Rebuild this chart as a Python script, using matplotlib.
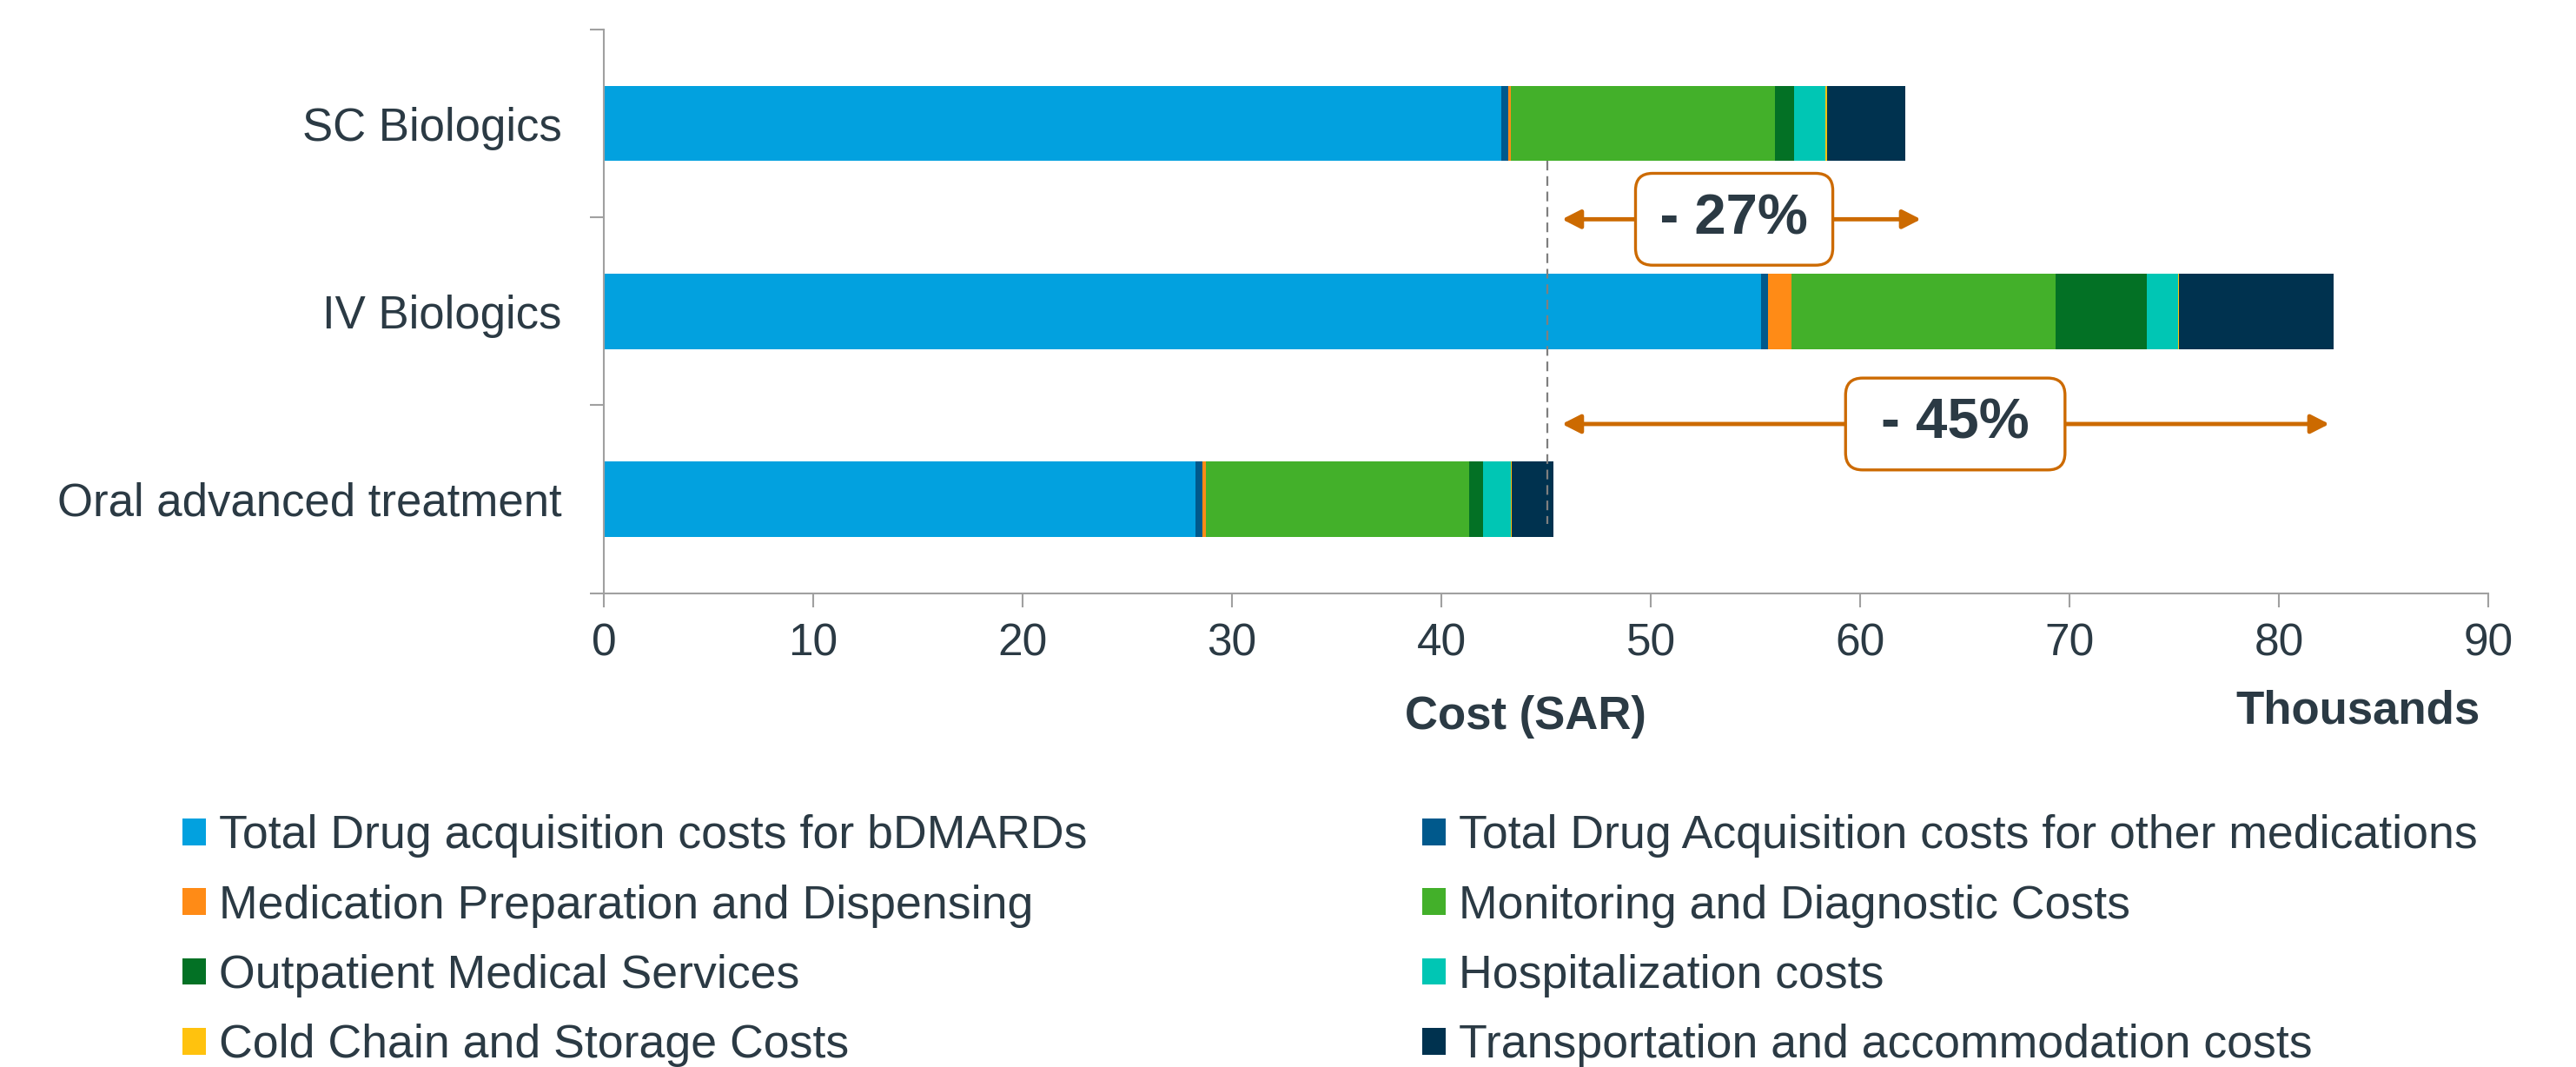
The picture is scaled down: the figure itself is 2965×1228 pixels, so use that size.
import matplotlib
matplotlib.use("Agg")
import numpy as np
import matplotlib.pyplot as plt

plt.rcParams["font.family"] = ["Liberation Sans", "DejaVu Sans"]

# data (thousand SAR)
categories = ["SC Biologics", "IV Biologics", "Oral advanced treatment"]
bdmards = [42.86, 55.25, 28.26]
other_meds = [0.34, 0.35, 0.33]
prep = [0.13, 1.13, 0.17]
monitoring = [12.58, 12.59, 12.57]
outpatient = [0.93, 4.35, 0.65]
hospital = [1.51, 1.50, 1.32]
cold_chain = [0.05, 0.07, 0.04]
transport = [3.77, 7.38, 1.99]

series_names = [
    "Total Drug acquisition costs for bDMARDs",
    "Total Drug Acquisition costs for other medications",
    "Medication Preparation and Dispensing",
    "Monitoring and Diagnostic Costs",
    "Outpatient Medical Services",
    "Hospitalization costs",
    "Cold Chain and Storage Costs",
    "Transportation and accommodation costs",
]
series_values = [bdmards, other_meds, prep, monitoring,
                 outpatient, hospital, cold_chain, transport]
colors = ["#02A1DF", "#00598C", "#FF8B16", "#43B02A",
          "#037125", "#00C6B4", "#FFC20E", "#00324F"]

reduction_labels = ["- 27%", "- 45%"]

text_col = "#2B3A44"
axis_col = "#A0A0A0"
arrow_col = "#CC6A00"

fig = plt.figure(figsize=(29.65, 12.28), dpi=100)
ax = fig.add_axes([0.2344, 0.4442, 0.7316, 0.5281])

y = np.arange(len(categories))
left = np.zeros(len(categories))
handles = []
for name, vals, col in zip(series_names, series_values, colors):
    vals = np.array(vals)
    bars = ax.barh(y, vals, left=left, height=0.4, color=col,
                   label=name, zorder=2)
    handles.append(bars)
    left += vals

ax.set_xlim(0, 90)
ax.set_ylim(2.5, -0.5)
ax.set_xticks(np.arange(0, 91, 10))
ax.tick_params(axis="x", labelsize=37, colors=axis_col, labelcolor=text_col,
               length=11.5, width=1.5, pad=13)

ax.set_yticks([-0.5, 0.5, 1.5, 2.5])
ax.set_yticklabels([])
ax.set_yticks(y, minor=True)
ax.set_yticklabels(categories, minor=True)
ax.tick_params(axis="y", which="major", colors=axis_col, length=11.5, width=1.5)
ax.tick_params(axis="y", which="minor", length=0, labelsize=38,
               labelcolor=text_col, pad=35)

for s in ["top", "right"]:
    ax.spines[s].set_visible(False)
for s in ["left", "bottom"]:
    ax.spines[s].set_color(axis_col)
    ax.spines[s].set_linewidth(1.5)

# reference line at oral treatment total
ax.plot([45.05, 45.05], [0.2, 2.13], color="#7F7F7F", lw=1.6,
        dashes=(5, 3), zorder=3)

# reduction arrows
arrow_y = [0.51, 1.60]
arrow_ends = [62.9, 82.4]
box_x = [53.98, 64.54]
pads = ["\u200a", " "]
for yy, xe, bx, lab, pd in zip(arrow_y, arrow_ends, box_x, reduction_labels, pads):
    ax.annotate("", xy=(xe, yy), xytext=(45.76, yy),
                arrowprops=dict(arrowstyle="<|-|>,head_length=0.55,head_width=0.28",
                                color=arrow_col, lw=3.5, shrinkA=0, shrinkB=0,
                                mutation_scale=23),
                zorder=4)
    ax.text(bx, yy, pd + lab + pd, fontsize=47, fontweight="bold",
            color=text_col, ha="center", va="center", zorder=5,
            bbox=dict(boxstyle="round,pad=0.35,rounding_size=0.3",
                      fc="white", ec=arrow_col, lw=2.4))

fig.text(0.5922, 0.3168, "Cost (SAR)", fontsize=38, fontweight="bold",
         color=text_col, ha="center", va="baseline")
fig.text(0.9629, 0.3217, "Thousands", fontsize=38, fontweight="bold",
         color=text_col, ha="right", va="baseline")

order = [0, 2, 4, 6, 1, 3, 5, 7]
fig.legend([handles[i] for i in order], [series_names[i] for i in order],
           loc="upper left", bbox_to_anchor=(0.0708, 0.2366), ncol=2,
           frameon=False, fontsize=38.6, handlelength=0.5, handleheight=0.5,
           handletextpad=0.28, columnspacing=7.2, labelspacing=0.565,
           borderpad=0, borderaxespad=0, labelcolor=text_col)

fig.savefig("out.png", dpi=100)
plt.close(fig)
